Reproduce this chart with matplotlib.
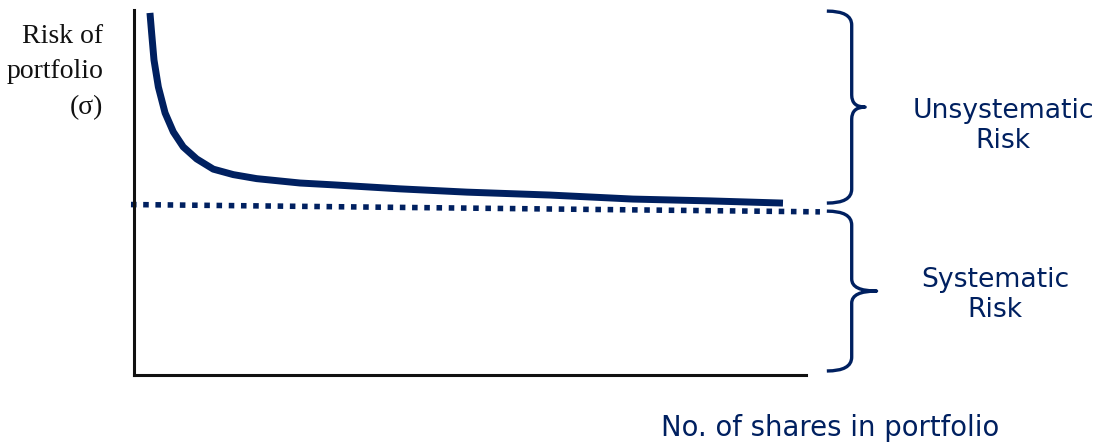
import matplotlib.pyplot as plt
from matplotlib.path import Path
from matplotlib.patches import PathPatch
import matplotlib.transforms as mtransforms

NAVY = "#002060"

# Total risk of the portfolio as more shares are added
shares = [0.95, 1.05, 1.19, 1.45, 1.85, 2.34, 2.93, 3.73, 4.72, 5.91, 7.30,
          9.88, 11.85, 15.83, 19.82, 24.76, 29.70, 34.29, 38.63]
risk = [99.2, 93.7, 86.3, 78.9, 71.8, 66.6, 62.5, 59.2, 56.4, 54.9, 53.8,
        52.6, 52.1, 51.0, 50.1, 49.3, 48.2, 47.7, 47.1]

# Market (systematic) risk level, drawn a little past both ends of the axis
market_x = [-0.18, 40.83]
market_risk = [46.7, 44.7]

# Vertical spans of the two braces (low, high)
unsys_span = (47.1, 99.7)
sys_span = (1.1, 44.9)


def brace(ax, y0, y1, x_end, x_mid, x_tip, r, r_tip):
    trans = mtransforms.blended_transform_factory(ax.transAxes, ax.transData)
    ym = (y0 + y1) / 2
    verts = [
        (x_end, y1),
        (x_mid, y1), (x_mid, y1 - r),
        (x_mid, ym + r_tip),
        (x_mid, ym), (x_tip, ym),
        (x_mid, ym), (x_mid, ym - r_tip),
        (x_mid, y0 + r),
        (x_mid, y0), (x_end, y0),
    ]
    codes = [Path.MOVETO,
             Path.CURVE3, Path.CURVE3,
             Path.LINETO,
             Path.CURVE3, Path.CURVE3,
             Path.CURVE3, Path.CURVE3,
             Path.LINETO,
             Path.CURVE3, Path.CURVE3]
    patch = PathPatch(Path(verts, codes), transform=trans, fill=False,
                      edgecolor=NAVY, lw=2.4, clip_on=False, capstyle="butt",
                      joinstyle="round")
    ax.add_patch(patch)


def main():
    fig = plt.figure(figsize=(11.04, 4.43), dpi=100)
    ax = fig.add_axes([134 / 1104, 68 / 443, 672 / 1104, 365 / 443])

    ax.plot(shares, risk, color=NAVY, lw=5, solid_capstyle="butt",
            solid_joinstyle="round", clip_on=False)
    ax.plot(market_x, market_risk, color=NAVY, lw=4,
            linestyle=(0, (1, 1.2)), dash_capstyle="butt", clip_on=False)

    ax.set_xlim(0, 40)
    ax.set_ylim(0, 100)
    ax.set_xticks([])
    ax.set_yticks([])
    for side in ["top", "right"]:
        ax.spines[side].set_visible(False)
    for side in ["left", "bottom"]:
        ax.spines[side].set_linewidth(2.2)
        ax.spines[side].set_color("#111111")

    brace(ax, *unsys_span, x_end=1.031, x_mid=1.068, x_tip=1.088, r=3.8, r_tip=3.3)
    brace(ax, *sys_span, x_end=1.031, x_mid=1.068, x_tip=1.105, r=3.8, r_tip=3.3)

    fig.text(103 / 1104, 1 - 72 / 443, "Risk of\nportfolio\n(\u03c3)",
             ha="right", va="center", multialignment="right",
             family="Liberation Serif", fontsize=20, linespacing=1.55,
             color="#111111")

    fig.text(1003 / 1104, 1 - 126 / 443, "Unsystematic\nRisk", ha="center",
             va="center", family="DejaVu Sans", fontsize=19.2,
             linespacing=1.2, color=NAVY)
    fig.text(995 / 1104, 1 - 295 / 443, "Systematic\nRisk", ha="center",
             va="center", family="DejaVu Sans", fontsize=19.2,
             linespacing=1.2, color=NAVY)
    fig.text(830 / 1104, 1 - 428 / 443, "No. of shares in portfolio",
             ha="center", va="center", family="DejaVu Sans", fontsize=19.8,
             color=NAVY)

    fig.savefig("out.png", dpi=100)


if __name__ == "__main__":
    main()
